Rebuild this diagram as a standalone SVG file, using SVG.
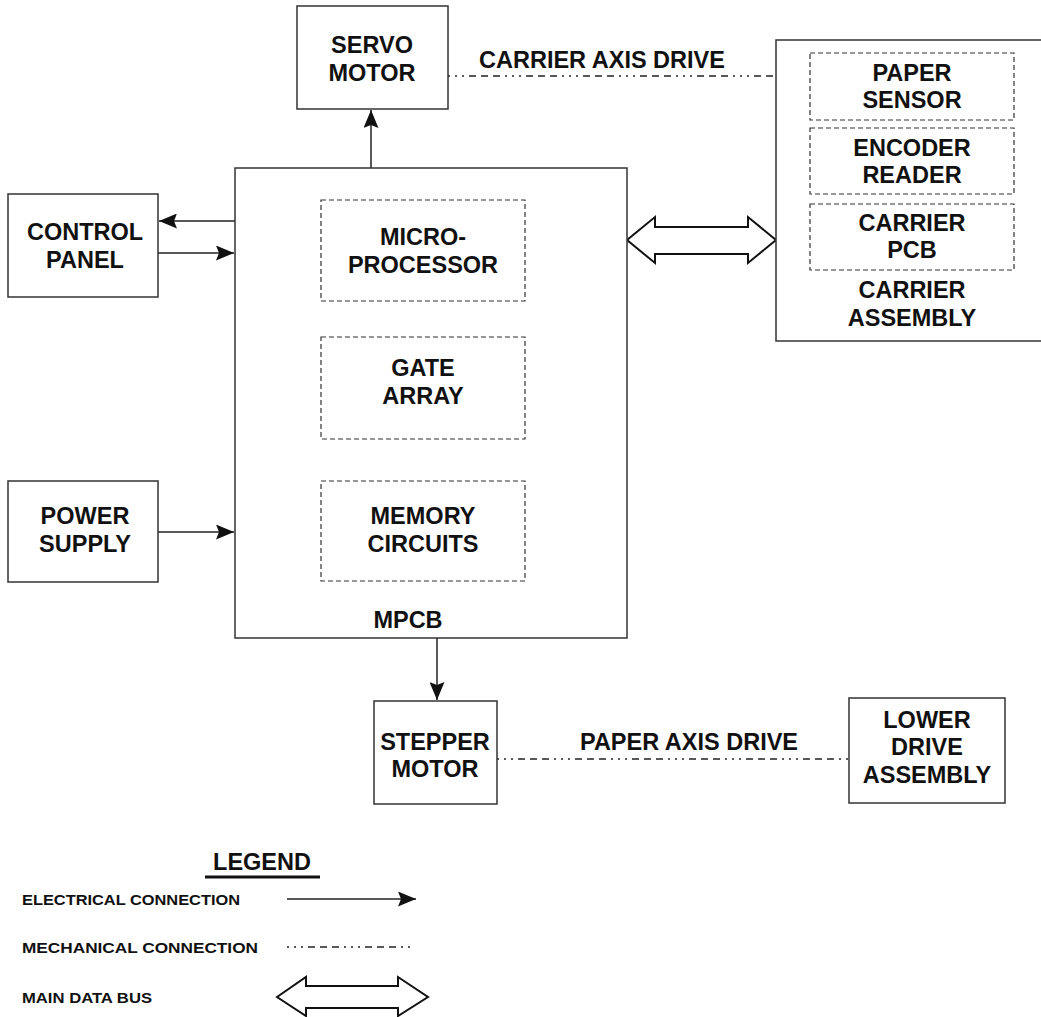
<svg xmlns="http://www.w3.org/2000/svg" width="1041" height="1017" viewBox="0 0 1041 1017">
<defs>
<style>
.box{fill:#fff;stroke:#333;stroke-width:1.5}
.dbox{fill:none;stroke:#333;stroke-width:1.2;stroke-dasharray:5 3}
.t{font-family:"Liberation Sans",Arial,sans-serif;font-weight:bold;font-size:23.5px;fill:#111;text-anchor:middle}
.s{font-family:"Liberation Sans",Arial,sans-serif;font-weight:bold;font-size:15px;fill:#111}
.wire{stroke:#222;stroke-width:1.5;fill:none}
.mech{stroke:#222;stroke-width:1.6;fill:none;stroke-dasharray:2 5 2 5 2 5 7 5 7 5 7 5}
.bus{fill:#fff;stroke:#111;stroke-width:2}
</style>
<marker id="ah" viewBox="0 0 18 15" refX="18" refY="7.5" markerWidth="18" markerHeight="15" markerUnits="userSpaceOnUse" orient="auto">
<path d="M0,0 L18,7.5 L0,15 L3,7.5 Z" fill="#111"/>
</marker>
</defs>
<rect width="1041" height="1017" fill="#fff"/>

<g id="connectors">
<line class="wire" x1="371" y1="168" x2="371" y2="110" marker-end="url(#ah)"/>
<line class="wire" x1="235" y1="221" x2="159" y2="221" marker-end="url(#ah)"/>
<line class="wire" x1="158" y1="253" x2="234" y2="253" marker-end="url(#ah)"/>
<line class="wire" x1="158" y1="532" x2="234" y2="532" marker-end="url(#ah)"/>
<line class="wire" x1="437" y1="638" x2="437" y2="700" marker-end="url(#ah)"/>
<line class="mech" x1="448" y1="76" x2="776" y2="76"/>
<line class="mech" x1="497" y1="759" x2="849" y2="759"/>
<path class="bus" d="M627,240 L655,217 L655,227 L748,227 L748,217 L776,240 L748,263 L748,254 L655,254 L655,263 Z"/>
<text class="t" x="602" y="68">CARRIER AXIS DRIVE</text>
<text class="t" x="689" y="750">PAPER AXIS DRIVE</text>
</g>

<g id="servo-motor">
<rect class="box" x="297" y="6" width="151" height="103"/>
<text class="t" x="372" y="53">SERVO</text>
<text class="t" x="372" y="81">MOTOR</text>
</g>

<g id="control-panel">
<rect class="box" x="8" y="194" width="150" height="103"/>
<text class="t" x="85" y="240">CONTROL</text>
<text class="t" x="85" y="268">PANEL</text>
</g>

<g id="power-supply">
<rect class="box" x="8" y="481" width="150" height="101"/>
<text class="t" x="85" y="524">POWER</text>
<text class="t" x="85" y="552">SUPPLY</text>
</g>

<g id="mpcb">
<rect class="box" x="235" y="168" width="392" height="470"/>
<text class="t" x="408" y="628">MPCB</text>
</g>

<g id="microprocessor">
<rect class="dbox" x="321" y="200" width="204" height="101"/>
<text class="t" x="423" y="245">MICRO-</text>
<text class="t" x="423" y="273">PROCESSOR</text>
</g>

<g id="gate-array">
<rect class="dbox" x="321" y="337" width="204" height="102"/>
<text class="t" x="423" y="376">GATE</text>
<text class="t" x="423" y="404">ARRAY</text>
</g>

<g id="memory-circuits">
<rect class="dbox" x="321" y="481" width="204" height="100"/>
<text class="t" x="423" y="524">MEMORY</text>
<text class="t" x="423" y="552">CIRCUITS</text>
</g>

<g id="carrier-assembly">
<rect class="box" x="776" y="40" width="280" height="301"/>
<text class="t" x="912" y="298">CARRIER</text>
<text class="t" x="912" y="326">ASSEMBLY</text>
</g>

<g id="paper-sensor">
<rect class="dbox" x="810" y="53" width="204" height="67"/>
<text class="t" x="912" y="81">PAPER</text>
<text class="t" x="912" y="108">SENSOR</text>
</g>

<g id="encoder-reader">
<rect class="dbox" x="810" y="128" width="204" height="66"/>
<text class="t" x="912" y="156">ENCODER</text>
<text class="t" x="912" y="183">READER</text>
</g>

<g id="carrier-pcb">
<rect class="dbox" x="810" y="204" width="204" height="66"/>
<text class="t" x="912" y="231">CARRIER</text>
<text class="t" x="912" y="258">PCB</text>
</g>

<g id="stepper-motor">
<rect class="box" x="374" y="701" width="123" height="103"/>
<text class="t" x="435" y="750">STEPPER</text>
<text class="t" x="435" y="777">MOTOR</text>
</g>

<g id="lower-drive-assembly">
<rect class="box" x="849" y="698" width="156" height="105"/>
<text class="t" x="927" y="728">LOWER</text>
<text class="t" x="927" y="755">DRIVE</text>
<text class="t" x="927" y="783">ASSEMBLY</text>
</g>

<g id="legend">
<text class="t" x="262" y="870">LEGEND</text>
<line x1="205" y1="877" x2="320" y2="877" stroke="#111" stroke-width="3"/>
<text class="s" x="22" y="905" textLength="218" lengthAdjust="spacingAndGlyphs">ELECTRICAL CONNECTION</text>
<line class="wire" x1="287" y1="899" x2="416" y2="899" marker-end="url(#ah)"/>
<text class="s" x="22" y="953" textLength="236" lengthAdjust="spacingAndGlyphs">MECHANICAL CONNECTION</text>
<line class="mech" x1="287" y1="947" x2="412" y2="947"/>
<text class="s" x="22" y="1003" textLength="130" lengthAdjust="spacingAndGlyphs">MAIN DATA BUS</text>
<path class="bus" d="M277,997 L306,977 L306,986 L398,986 L398,977 L428,997 L398,1016 L398,1008 L306,1008 L306,1016 Z"/>
</g>
</svg>
